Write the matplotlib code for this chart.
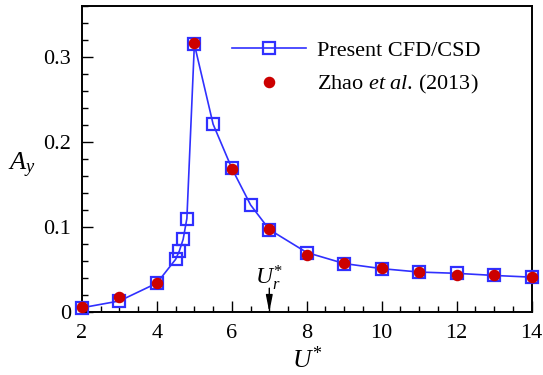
import matplotlib
matplotlib.use("Agg")
import matplotlib.pyplot as plt
from matplotlib.ticker import MultipleLocator

plt.rcParams['font.family'] = ['Liberation Serif', 'DejaVu Serif']
plt.rcParams['mathtext.fontset'] = 'custom'
plt.rcParams['mathtext.rm'] = 'Liberation Serif'
plt.rcParams['mathtext.it'] = 'Liberation Serif:italic'
plt.rcParams['mathtext.bf'] = 'Liberation Serif:bold'

cfd_x = [2, 3, 4, 4.5, 4.6, 4.7, 4.8, 5, 5.5, 6, 6.5, 7, 8, 9, 10, 11, 12, 13, 14]
cfd_y = [0.005, 0.013, 0.034, 0.062, 0.072, 0.0855, 0.110, 0.315, 0.221, 0.169, 0.126,
         0.097, 0.070, 0.057, 0.051, 0.047, 0.0455, 0.043, 0.041]
zhao_x = [2, 3, 4, 5, 6, 7, 8, 9, 10, 11, 12, 13, 14]
zhao_y = [0.006, 0.018, 0.034, 0.316, 0.168, 0.098, 0.067, 0.058, 0.052, 0.0475, 0.043, 0.043, 0.041]
ur_x = 7

fig = plt.figure(figsize=(5.43, 3.75), dpi=100)
L, R, T, B = 82, 531.5, 6, 312
ax = fig.add_axes([L/543, 1-B/375, (R-L)/543, (B-T)/375])

blue = '#3030ff'
red = '#cc0000'
ax.plot(cfd_x, cfd_y, '-', color=blue, lw=1.2, marker='s', ms=8.3, mfc='none',
        mec=blue, mew=1.6, label='Present CFD/CSD', zorder=3, clip_on=False)
ax.plot(zhao_x, zhao_y, 'o', color=red, ms=7.3, mec=red, lw=0,
        label=r'Zhao $\mathit{et\ al}$. (2013)', zorder=4, clip_on=False)

ax.set_xlim(2, 14)
ax.set_ylim(0, 0.36)
ax.xaxis.set_major_locator(MultipleLocator(2))
ax.xaxis.set_minor_locator(MultipleLocator(0.5))
ax.yaxis.set_major_locator(MultipleLocator(0.1))
ax.yaxis.set_minor_locator(MultipleLocator(0.02))
ax.set_yticks([0, 0.1, 0.2, 0.3])
ax.set_yticklabels(['0', '0.1', '0.2', '0.3'])
ax.tick_params(which='both', direction='in', top=False, right=False, labelsize=16, width=1)
ax.tick_params(which='major', length=8)
ax.tick_params(axis='x', which='major', pad=9)
ax.tick_params(axis='y', which='major', pad=8)
ax.tick_params(which='minor', length=4.5)
for s in ax.spines.values():
    s.set_linewidth(1.4)

ax.set_xlabel(r'$U^{*}$', fontsize=18.5, labelpad=2)
ax.set_ylabel(r'$A_y$', fontsize=19, rotation=0, va='center', ha='center')
ax.yaxis.set_label_coords(-0.133, 0.48)

ax.annotate('', xy=(ur_x, 0), xytext=(ur_x, 0.028),
            arrowprops=dict(arrowstyle='-|>,head_length=1.0,head_width=0.2', color='black',
                            lw=1, shrinkA=0, shrinkB=0))
ax.text(ur_x, 0.0335, r'$U_r^{*}$', ha='center', va='baseline', fontsize=17)

leg = ax.legend(loc='upper left', bbox_to_anchor=(0.29, 0.952), frameon=False, fontsize=16,
                handlelength=3.3, handletextpad=0.5, labelspacing=0.55, numpoints=1)

fig.savefig('out.png', dpi=100)
